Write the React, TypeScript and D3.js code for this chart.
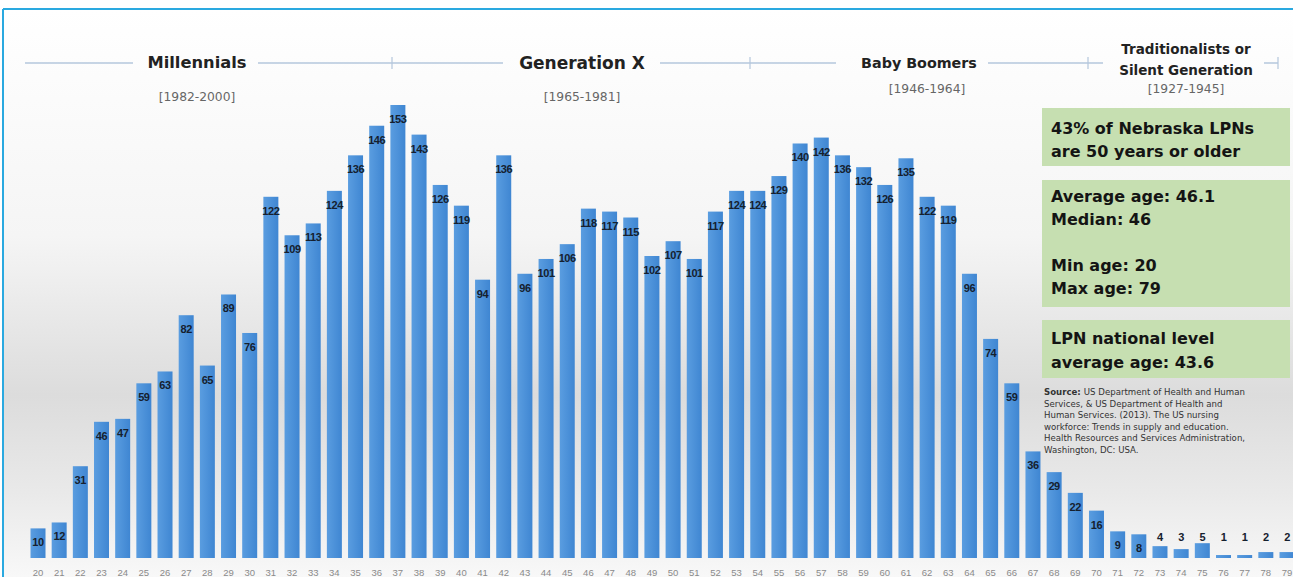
import React from "react";
import * as d3 from "d3";

const ages: number[] = d3.range(20, 80);
const counts: number[] = [
  10, 12, 31, 46, 47, 59, 63, 82, 65, 89,
  76, 122, 109, 113, 124, 136, 146, 153, 143, 126,
  119, 94, 136, 96, 101, 106, 118, 117, 115, 102,
  107, 101, 117, 124, 124, 129, 140, 142, 136, 132,
  126, 135, 122, 119, 96, 74, 59, 36, 29, 22,
  16, 9, 8, 4, 3, 5, 1, 1, 2, 2,
];

const generations = [
  { name: ["Millennials"], years: "[1982-2000]" },
  { name: ["Generation X"], years: "[1965-1981]" },
  { name: ["Baby Boomers"], years: "[1946-1964]" },
  { name: ["Traditionalists or", "Silent Generation"], years: "[1927-1945]" },
];

const box1Lines = ["43% of Nebraska LPNs", "are 50 years or older"];
const box2Lines = ["Average age: 46.1", "Median: 46", "", "Min age: 20", "Max age: 79"];
const box3Lines = ["LPN national level", "average age: 43.6"];
const sourceLines = [
  "US Department of Health and Human",
  "Services, & US Department of Health and",
  "Human Services. (2013). The US nursing",
  "workforce: Trends in supply and education.",
  "Health Resources and Services Administration,",
  "Washington, DC: USA.",
];

const W = 1293;
const H = 577;

export default function App() {
  const x = d3.scaleLinear().domain([20, 79]).range([38, 1287]);
  const y = d3.scaleLinear().domain([0, 153]).range([558, 105]);
  const bw = 15;
  const bold = "'DejaVu Sans', sans-serif";
  const lineColor = "#b4c7dc";

  const labelY = (v: number) => {
    const top = y(v);
    if (v < 6) return 541;
    return Math.min(top + 18, 552);
  };

  const hdr = [
    { cx: 197, nameY: [68], yearsY: 101, size: 16.3 },
    { cx: 582, nameY: [69], yearsY: 101, size: 17 },
    { cx: 919, nameY: [68], yearsY: 93, size: 14.3 },
    { cx: 1186, nameY: [54, 75], yearsY: 93, size: 13.5 },
  ];
  const segs: [number, number][] = [
    [25, 133],
    [258, 503],
    [660, 836],
    [988, 1103],
    [1264, 1278],
  ];
  const ticks = [392, 750, 1088, 1278];

  return (
    <svg width={W} height={H} style={{ position: "absolute", left: 0, top: 0 }}>
      <defs>
        <linearGradient id="bg" x1="0" y1="0" x2="0" y2="1">
          <stop offset="0" stopColor="#ffffff" />
          <stop offset="0.4" stopColor="#f5f5f5" />
          <stop offset="0.68" stopColor="#dcdcdc" />
          <stop offset="0.85" stopColor="#e9e9e9" />
          <stop offset="1" stopColor="#f8f8f8" />
        </linearGradient>
        <linearGradient id="bar" x1="0" y1="0" x2="1" y2="0">
          <stop offset="0" stopColor="#5a9de0" />
          <stop offset="1" stopColor="#3f86d2" />
        </linearGradient>
      </defs>
      <rect x={0} y={0} width={W} height={H} fill="#ffffff" />
      <rect x={3} y={9} width={W - 3} height={H - 9} fill="url(#bg)" />
      <line x1={3} y1={9} x2={W} y2={9} stroke="#2aa9e0" strokeWidth={2} />
      <line x1={3} y1={9} x2={3} y2={H} stroke="#2aa9e0" strokeWidth={2} />

      {segs.map((s, i) => (
        <line key={"s" + i} x1={s[0]} x2={s[1]} y1={63} y2={63} stroke={lineColor} strokeWidth={1.5} />
      ))}
      {ticks.map((t, i) => (
        <line key={"t" + i} x1={t} x2={t} y1={57} y2={69} stroke={lineColor} strokeWidth={1.2} />
      ))}
      {generations.map((g, i) => (
        <g key={"g" + i}>
          {g.name.map((n, j) => (
            <text key={j} x={hdr[i].cx} y={hdr[i].nameY[j]} textAnchor="middle" fontFamily={bold}
              fontWeight="bold" fontSize={hdr[i].size} fill="#222">{n}</text>
          ))}
          <text x={hdr[i].cx + (i === 2 ? 8 : 0)} y={hdr[i].yearsY} textAnchor="middle"
            fontFamily="'DejaVu Sans', sans-serif" fontSize={12.3} fill="#666">{g.years}</text>
        </g>
      ))}

      {counts.map((v, i) => (
        <rect key={"b" + i} x={x(ages[i]) - bw / 2} y={y(v)} width={bw} height={y(0) - y(v)} fill="url(#bar)" />
      ))}
      {counts.map((v, i) => (
        <text key={"l" + i} x={x(ages[i])} y={labelY(v)} textAnchor="middle"
          fontFamily="'Liberation Sans', sans-serif" fontWeight="bold" fontSize={11}
          letterSpacing={-0.4} fill="#15202e">{v}</text>
      ))}
      {ages.map((a, i) => (
        <text key={"a" + i} x={x(a)} y={576} textAnchor="middle"
          fontFamily="'Liberation Sans', sans-serif" fontSize={9.5} fill="#8a8a8a">{a}</text>
      ))}

      <rect x={1042} y={108} width={248} height={58} fill="#c6dfb1" />
      {box1Lines.map((t, i) => (
        <text key={"b1" + i} x={1051} y={134 + i * 23} fontFamily={bold} fontWeight="bold" fontSize={16} fill="#141414">{t}</text>
      ))}
      <rect x={1042} y={180} width={248} height={127} fill="#c6dfb1" />
      {box2Lines.map((t, i) => (
        <text key={"b2" + i} x={1051} y={202 + i * 23} fontFamily={bold} fontWeight="bold" fontSize={16} fill="#141414">{t}</text>
      ))}
      <rect x={1042} y={320} width={248} height={58} fill="#c6dfb1" />
      {box3Lines.map((t, i) => (
        <text key={"b3" + i} x={1051} y={344 + i * 24} fontFamily={bold} fontWeight="bold" fontSize={16} fill="#141414">{t}</text>
      ))}

      {sourceLines.map((t, i) => (
        <text key={"src" + i} x={1044} y={395 + i * 11.5} fontFamily="'DejaVu Sans', sans-serif" fontSize={8.6} fill="#333">
          {i === 0 ? <tspan fontWeight="bold">Source: </tspan> : null}
          {t}
        </text>
      ))}
    </svg>
  );
}
